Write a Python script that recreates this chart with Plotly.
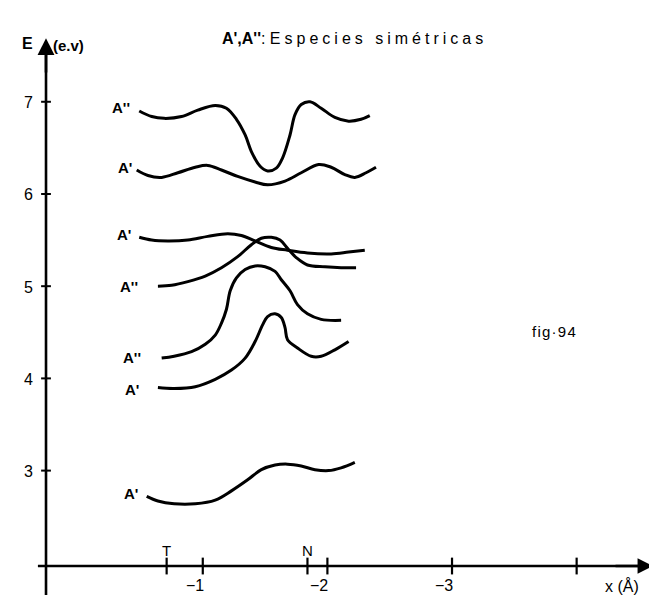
import plotly.graph_objects as go

# ---------------- data (x in Angstrom, E in eV) ----------------
c1_x = [-0.49, -0.59, -0.69, -0.83, -0.96, -1.10, -1.19, -1.27, -1.34, -1.39, -1.46, -1.52,
        -1.59, -1.64, -1.70, -1.74, -1.79, -1.86, -1.95, -2.06, -2.17, -2.27, -2.34]
c1_E = [6.90, 6.84, 6.82, 6.84, 6.91, 6.96, 6.93, 6.81, 6.64, 6.46, 6.30, 6.25,
        6.28, 6.39, 6.64, 6.86, 6.97, 7.00, 6.93, 6.83, 6.79, 6.81, 6.85]

c2_x = [-0.47, -0.56, -0.67, -0.80, -0.94, -1.04, -1.15, -1.28, -1.42, -1.52, -1.66, -1.79,
        -1.93, -2.03, -2.14, -2.22, -2.31, -2.39]
c2_E = [6.26, 6.20, 6.18, 6.23, 6.29, 6.31, 6.26, 6.19, 6.13, 6.10, 6.14, 6.23,
        6.32, 6.29, 6.21, 6.18, 6.23, 6.29]

c3_x = [-0.49, -0.59, -0.72, -0.88, -1.04, -1.20, -1.31, -1.42, -1.55, -1.68, -1.84, -2.03, -2.17, -2.30]
c3_E = [5.53, 5.50, 5.49, 5.50, 5.54, 5.57, 5.55, 5.49, 5.42, 5.39, 5.36, 5.35, 5.37, 5.39]

c4_x = [-0.64, -0.75, -0.88, -1.02, -1.15, -1.28, -1.39, -1.47, -1.55, -1.62, -1.68, -1.75,
        -1.84, -1.98, -2.11, -2.23]
c4_E = [5.00, 5.01, 5.05, 5.11, 5.20, 5.32, 5.45, 5.52, 5.53, 5.50, 5.41, 5.31,
        5.23, 5.21, 5.20, 5.20]

c5_x = [-0.67, -0.77, -0.91, -1.02, -1.10, -1.15, -1.19, -1.22, -1.27, -1.34, -1.42, -1.50,
        -1.58, -1.63, -1.70, -1.76, -1.84, -1.95, -2.11]
c5_E = [4.22, 4.24, 4.29, 4.37, 4.47, 4.60, 4.75, 4.95, 5.09, 5.18, 5.22, 5.21,
        5.16, 5.07, 4.95, 4.80, 4.70, 4.64, 4.63]

c6_x = [-0.64, -0.77, -0.94, -1.10, -1.23, -1.34, -1.42, -1.48, -1.52, -1.58, -1.63, -1.66,
        -1.68, -1.76, -1.87, -1.95, -2.06, -2.17]
c6_E = [3.90, 3.89, 3.91, 3.99, 4.09, 4.22, 4.40, 4.58, 4.67, 4.70, 4.66, 4.55,
        4.42, 4.33, 4.24, 4.24, 4.31, 4.40]

c7_x = [-0.55, -0.64, -0.77, -0.94, -1.10, -1.23, -1.36, -1.47, -1.58, -1.68, -1.79, -1.90,
        -2.01, -2.11, -2.22]
c7_E = [2.72, 2.67, 2.64, 2.64, 2.68, 2.78, 2.90, 3.01, 3.06, 3.07, 3.05, 3.01,
        3.00, 3.03, 3.09]

curves_x = [c1_x, c2_x, c3_x, c4_x, c5_x, c6_x, c7_x]
curves_E = [c1_E, c2_E, c3_E, c4_E, c5_E, c6_E, c7_E]
curve_labels = ["A''", "A'", "A'", "A''", "A''", "A'", "A'"]

y_ticks = [7, 6, 5, 4, 3]
y_tick_labels = ["7", "6", "5", "4", "3"]
x_ticks = [-1, -2, -3, -4]
x_tick_labels = ["\u22121", "\u22122", "\u22123", ""]
special_x = [-0.71, -1.84]
special_labels = ["T", "N"]

y_axis_x = 0.258
x_axis_E = 1.965

# ---------------- style ----------------
FONT = "Liberation Sans, Arial, Helvetica, sans-serif"
label_xshift = [-7, -3, -6, -18, -19, -17, -7]
label_yshift = [3, 3, 3, 0, 1, -2, 3]

fig = go.Figure()

for xs, es in zip(curves_x, curves_E):
    fig.add_trace(go.Scatter(x=xs, y=es, mode="lines",
                             line=dict(color="black", width=3, shape="spline", smoothing=1.0),
                             hoverinfo="skip", showlegend=False))

# axes lines
fig.add_trace(go.Scatter(x=[y_axis_x, y_axis_x], y=[1.65, 7.55], mode="lines",
                         line=dict(color="black", width=2.6), showlegend=False, hoverinfo="skip"))
fig.add_trace(go.Scatter(x=[0.323, -4.55], y=[x_axis_E, x_axis_E], mode="lines",
                         line=dict(color="black", width=2.4), showlegend=False, hoverinfo="skip"))

# tick marks
fig.add_trace(go.Scatter(x=[y_axis_x] * len(y_ticks), y=y_ticks, mode="markers",
                         marker=dict(symbol="line-ew", size=7, line=dict(color="black", width=2)),
                         showlegend=False, hoverinfo="skip"))
fig.add_trace(go.Scatter(x=x_ticks + special_x, y=[x_axis_E] * (len(x_ticks) + len(special_x)),
                         mode="markers",
                         marker=dict(symbol="line-ns", size=12, line=dict(color="black", width=2.2)),
                         showlegend=False, hoverinfo="skip"))

ann = []
# arrowheads
ann.append(dict(x=y_axis_x, y=7.69, ax=y_axis_x, ay=7.3, xref="x", yref="y", axref="x", ayref="y",
                showarrow=True, arrowhead=2, arrowsize=1.3, arrowwidth=2.6, arrowcolor="black", text=""))
ann.append(dict(x=-4.614, y=x_axis_E, ax=-4.3, ay=x_axis_E, xref="x", yref="y", axref="x", ayref="y",
                showarrow=True, arrowhead=2, arrowsize=1.3, arrowwidth=2.4, arrowcolor="black", text=""))

# curve labels
for xs, es, lab, dx, dy in zip(curves_x, curves_E, curve_labels, label_xshift, label_yshift):
    ann.append(dict(x=xs[0], y=es[0], text="<b>%s</b>" % lab, showarrow=False, xanchor="right",
                    yanchor="middle", xshift=dx, yshift=dy,
                    font=dict(family=FONT, size=15, color="black")))

# y tick labels
for v, t in zip(y_ticks, y_tick_labels):
    ann.append(dict(x=y_axis_x, y=v, text=t, showarrow=False, xanchor="center", xshift=-18, yshift=-1,
                    font=dict(family=FONT, size=16, color="black")))
# x tick labels
for v, t in zip(x_ticks, x_tick_labels):
    if t:
        ann.append(dict(x=v, y=x_axis_E, text=t, showarrow=False, xanchor="center", yanchor="middle",
                        xshift=-8, yshift=-19, font=dict(family=FONT, size=16, color="black")))
for v, t in zip(special_x, special_labels):
    ann.append(dict(x=v, y=x_axis_E, text=t, showarrow=False, xanchor="center", yanchor="middle",
                    yshift=16, font=dict(family=FONT, size=15, color="black")))

# axis titles
ann.append(dict(x=y_axis_x, y=7.69, text="<b>E</b>", showarrow=False, xanchor="center", yanchor="middle",
                xshift=-19, yshift=-5, font=dict(family=FONT, size=16, color="black")))
ann.append(dict(x=y_axis_x, y=7.69, text="<b>(e.v)</b>", showarrow=False, xanchor="left", yanchor="middle",
                xshift=5, yshift=-7, font=dict(family=FONT, size=15, color="black")))
ann.append(dict(x=-4.36, y=x_axis_E, text="x (\u00c5)", showarrow=False, xanchor="center", yanchor="middle",
                yshift=-20, font=dict(family=FONT, size=16, color="black")))


def spaced(s, sp="\u2005"):
    return sp.join(list(s))


title = ("<b>A',A''</b>:\u00a0" + spaced("Especies") + "\u00a0\u2005\u2005" +
         spaced("simétricas"))
ann.append(dict(x=212 / 657, y=1 - 31 / 601, xref="paper", yref="paper", text=title, showarrow=False,
                xanchor="left", yanchor="middle", font=dict(family=FONT, size=16, color="black")))
ann.append(dict(x=546 / 657, y=1 - 323 / 601, xref="paper", yref="paper",
                text=spaced("fig\u00b794", "\u200a"),
                showarrow=False, xanchor="center", yanchor="middle",
                font=dict(family=FONT, size=15, color="black")))

fig.update_layout(
    width=657, height=601,
    margin=dict(l=0, r=0, t=0, b=0),
    paper_bgcolor="white", plot_bgcolor="white",
    xaxis=dict(range=[0.563, -4.709], visible=False, fixedrange=True),
    yaxis=dict(range=[1.499, 8.017], visible=False, fixedrange=True),
    annotations=ann,
    showlegend=False,
)

fig.write_html("out.html")
